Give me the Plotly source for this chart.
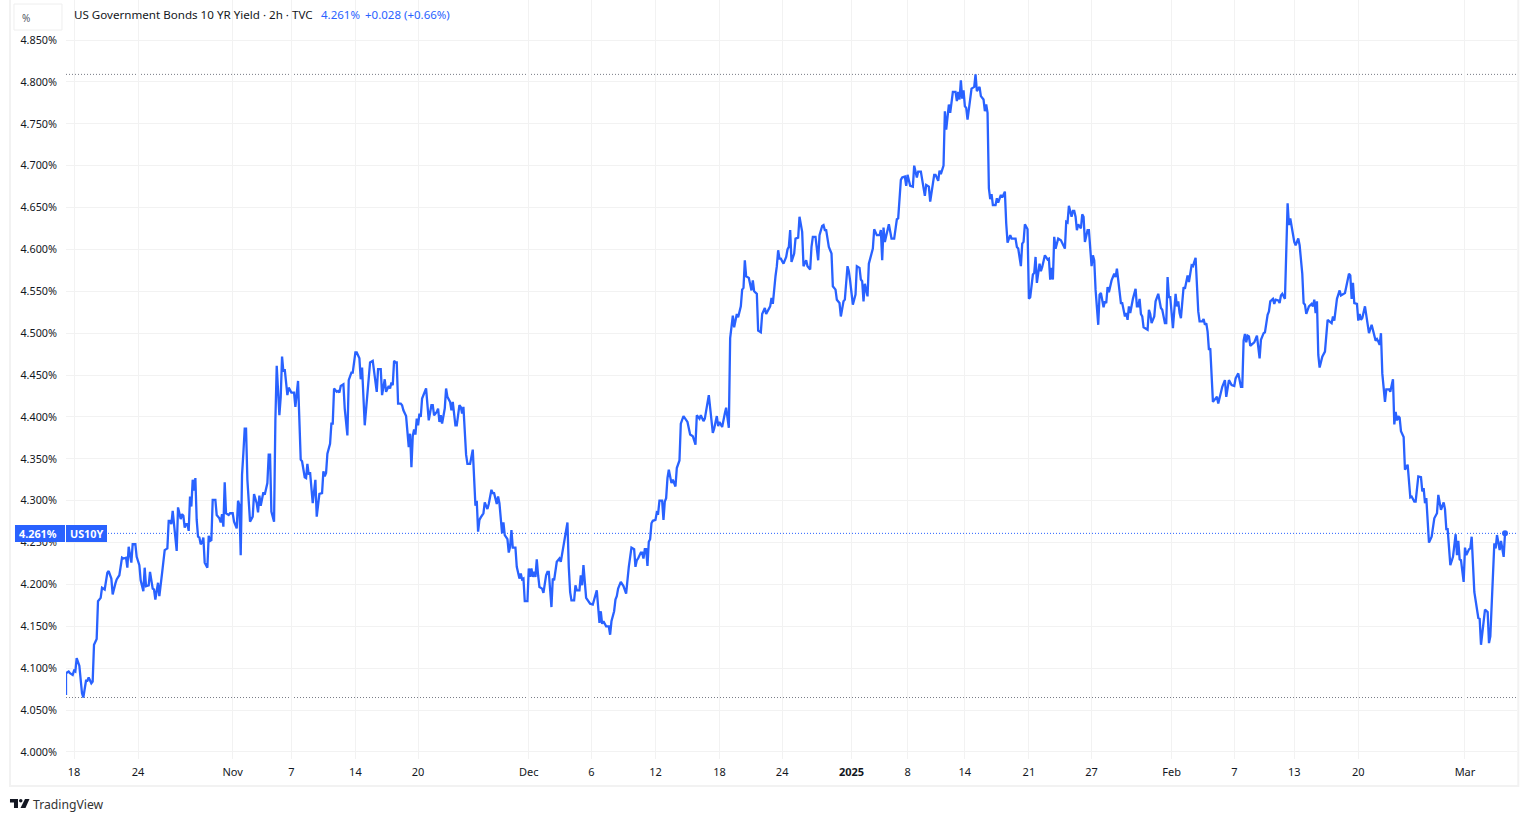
import plotly.graph_objects as go

# x is the bar number (2h bars), bar 0 = 18 Oct 2024
bars_oct = [-6, -6, -4, -3, -1, 0, 1, 2, 4, 6, 7, 9, 10, 11, 13, 14, 15, 17, 18, 20, 21, 23, 25, 26, 28, 29, 31, 32, 34, 36, 37, 39, 40, 41, 43, 44, 46, 47, 49, 50, 52, 53, 54, 56, 57, 59, 60, 61, 63, 64, 66,
            68, 70, 71, 72, 73, 74, 75, 77, 78, 80, 81, 82, 83, 84, 85, 86, 87, 88, 89, 90, 91, 92, 93, 94, 95, 96, 97, 98, 100, 101, 102, 103, 104, 106, 107, 109, 110, 111, 112, 113, 114, 116, 117]
yields_oct = [4.068, 4.094, 4.096, 4.094, 4.092, 4.097, 4.096, 4.112, 4.103, 4.070, 4.065, 4.085, 4.085, 4.089, 4.082, 4.084, 4.128, 4.135, 4.180, 4.184, 4.196, 4.194, 4.214, 4.216, 4.207, 4.188, 4.201, 4.206, 4.211, 4.232, 4.231, 4.232, 4.220, 4.245, 4.226, 4.248, 4.248, 4.233, 4.223, 4.205, 4.192, 4.220, 4.198, 4.199, 4.215, 4.195, 4.194, 4.182, 4.202, 4.186, 4.213,
              4.241, 4.243, 4.276, 4.276, 4.272, 4.288, 4.269, 4.240, 4.292, 4.278, 4.284, 4.282, 4.268, 4.272, 4.272, 4.264, 4.305, 4.293, 4.325, 4.312, 4.327, 4.277, 4.257, 4.256, 4.248, 4.250, 4.256, 4.226, 4.220, 4.258, 4.252, 4.253, 4.301, 4.301, 4.283, 4.279, 4.274, 4.284, 4.269, 4.322, 4.285, 4.283, 4.285]

bars_nov = [119, 120, 122, 123, 124, 125, 126, 127, 128, 129, 130, 132, 134, 135, 137, 138, 139, 140, 142, 143, 145, 146, 147, 148, 150, 151, 152, 154, 155, 156, 157, 158, 160, 161, 163, 165, 166, 168, 170, 171, 173, 174, 175, 176, 177, 179, 181, 182, 184, 186, 187, 188, 189, 190, 192, 193, 194, 195, 197, 198, 199, 200, 202, 203, 205, 206, 208, 209, 211, 212, 214, 215, 216, 218, 221, 222, 224, 225, 227, 228, 230, 231, 233, 234, 236, 237, 238, 239, 240, 241, 242, 243, 245, 246, 247, 249, 250, 251, 252, 253, 254, 255, 256, 257, 258, 259,
            260, 261, 264, 265, 266, 268, 269, 270, 272, 273, 274, 275, 276, 278, 279, 280, 282, 283, 284, 286, 287, 289, 290, 291, 292, 294, 295, 297, 299, 301, 302, 303, 304, 305, 307, 308, 310, 311, 313, 314, 315, 317, 318, 319, 320, 321, 322, 323, 325, 326, 327, 328, 329, 331, 332, 334, 335, 336, 337, 338, 340]
yields_nov = [4.285, 4.275, 4.267, 4.300, 4.295, 4.235, 4.331, 4.357, 4.386, 4.386, 4.325, 4.275, 4.281, 4.308, 4.297, 4.286, 4.306, 4.294, 4.310, 4.307, 4.321, 4.355, 4.355, 4.287, 4.275, 4.396, 4.461, 4.402, 4.424, 4.472, 4.454, 4.457, 4.426, 4.435, 4.429, 4.429, 4.412, 4.443, 4.349, 4.347, 4.328, 4.327, 4.344, 4.331, 4.334, 4.297, 4.325, 4.281, 4.308, 4.309, 4.335, 4.329, 4.333, 4.356, 4.368, 4.392, 4.392, 4.434, 4.430, 4.431, 4.429, 4.437, 4.439, 4.410, 4.378, 4.444, 4.453, 4.453, 4.477, 4.477, 4.470, 4.445, 4.459, 4.390, 4.442, 4.465, 4.467, 4.452, 4.430, 4.457, 4.457, 4.426, 4.445, 4.430, 4.437, 4.434, 4.441, 4.438, 4.467, 4.465, 4.465, 4.416, 4.416, 4.414, 4.408, 4.401, 4.381, 4.364, 4.380, 4.340, 4.377, 4.385, 4.379, 4.398, 4.390, 4.404,
              4.400, 4.422, 4.434, 4.410, 4.396, 4.414, 4.414, 4.402, 4.406, 4.410, 4.394, 4.402, 4.392, 4.410, 4.434, 4.424, 4.418, 4.408, 4.418, 4.390, 4.390, 4.414, 4.412, 4.404, 4.412, 4.355, 4.344, 4.344, 4.361, 4.294, 4.300, 4.263, 4.277, 4.280, 4.285, 4.298, 4.290, 4.296, 4.313, 4.309, 4.309, 4.296, 4.305, 4.297, 4.277, 4.261, 4.274, 4.259, 4.254, 4.238, 4.245, 4.265, 4.244, 4.244, 4.221, 4.207, 4.213, 4.206, 4.207, 4.180, 4.180]

bars_dec = [341, 342, 343, 344, 345, 346, 347, 348, 349, 351, 352, 354, 355, 356, 358, 359, 360, 362, 364, 365, 367, 368, 370, 371, 372, 373, 375, 376, 377, 379, 380, 381, 382, 384, 386, 387, 389, 392, 394, 395, 396, 397, 399, 401, 402, 403, 405, 406, 407, 408, 410, 412, 414, 415, 416, 418, 420, 421, 422, 423, 425, 426, 427, 428, 429, 430, 431, 432, 433, 434, 436, 437, 438, 439, 441, 442, 443, 444, 445, 446, 448, 449, 451, 452, 454, 455, 457, 460, 462, 464, 466, 467, 469, 470, 472, 473, 475, 476, 479, 480, 482, 483, 484, 486, 488, 489, 491,
            492, 494, 495, 497, 498, 500, 501, 502, 503, 504, 506, 508, 509, 510, 512, 513, 515, 516, 518, 519, 522, 523, 524, 526, 527, 528, 529, 530, 532, 534, 535, 536, 537, 538, 540, 541, 543, 544, 546, 547, 549, 550, 552, 553, 554, 556, 558, 559, 561, 562, 563, 564, 566, 568, 569, 571, 572, 574, 575, 577, 578, 580, 581, 582]
yields_dec = [4.219, 4.209, 4.219, 4.209, 4.215, 4.209, 4.230, 4.211, 4.197, 4.195, 4.190, 4.211, 4.215, 4.215, 4.173, 4.207, 4.205, 4.227, 4.231, 4.227, 4.247, 4.253, 4.274, 4.221, 4.191, 4.181, 4.181, 4.199, 4.193, 4.193, 4.211, 4.199, 4.223, 4.184, 4.180, 4.177, 4.176, 4.193, 4.154, 4.168, 4.153, 4.156, 4.150, 4.150, 4.140, 4.156, 4.168, 4.182, 4.186, 4.195, 4.203, 4.198, 4.189, 4.211, 4.221, 4.244, 4.242, 4.221, 4.229, 4.231, 4.238, 4.238, 4.231, 4.242, 4.242, 4.222, 4.251, 4.254, 4.273, 4.276, 4.277, 4.286, 4.285, 4.300, 4.300, 4.277, 4.299, 4.303, 4.327, 4.337, 4.321, 4.325, 4.317, 4.339, 4.348, 4.392, 4.401, 4.394, 4.379, 4.377, 4.367, 4.402, 4.398, 4.402, 4.395, 4.398, 4.418, 4.426, 4.381, 4.386, 4.401, 4.389, 4.394, 4.388, 4.404, 4.411, 4.387,
              4.494, 4.521, 4.507, 4.523, 4.519, 4.532, 4.552, 4.554, 4.587, 4.568, 4.566, 4.551, 4.563, 4.550, 4.547, 4.503, 4.501, 4.523, 4.530, 4.523, 4.532, 4.542, 4.535, 4.568, 4.580, 4.599, 4.589, 4.589, 4.583, 4.591, 4.600, 4.603, 4.623, 4.585, 4.595, 4.613, 4.614, 4.639, 4.621, 4.580, 4.587, 4.580, 4.576, 4.603, 4.615, 4.615, 4.587, 4.617, 4.628, 4.629, 4.623, 4.623, 4.603, 4.595, 4.556, 4.552, 4.540, 4.536, 4.520, 4.538, 4.540, 4.580, 4.574, 4.562]

bars_jan = [584, 586, 587, 589, 590, 591, 592, 593, 595, 596, 599, 600, 602, 604, 605, 606, 607, 608, 611, 613, 615, 617, 618, 620, 621, 623, 624, 625, 627, 629, 630, 632, 633, 635, 637, 638, 639, 641, 642, 645, 646, 648, 649, 650, 652, 653, 654, 656, 657, 659, 661, 662, 663, 664, 665, 666, 667, 668, 669, 670, 673, 675, 676, 677, 679, 680, 682, 683, 684, 685, 686, 687, 688, 689, 691, 692, 693, 695, 696, 698, 699, 700, 702, 703, 706, 707, 708, 710, 711, 712, 713, 715, 716, 717, 719, 720, 721, 722, 724, 725, 726, 728, 730, 731, 732, 733, 734, 735, 736, 738, 740, 741, 743, 744, 745, 746, 748, 749, 750, 751, 752, 753, 755, 756, 757, 758, 760, 761, 763, 764, 765, 766, 768, 769,
            770, 772, 773, 774, 775, 776, 778, 780, 781, 782, 784, 785, 786, 788, 789, 790, 791, 792, 794, 796, 797, 798, 799, 800, 801, 802, 805, 806, 807, 808, 810, 811, 813, 815, 816, 818, 819, 820, 821, 822]
yields_jan = [4.534, 4.546, 4.580, 4.578, 4.564, 4.562, 4.538, 4.559, 4.544, 4.583, 4.601, 4.624, 4.617, 4.617, 4.623, 4.587, 4.626, 4.609, 4.630, 4.613, 4.613, 4.636, 4.637, 4.683, 4.686, 4.687, 4.676, 4.689, 4.676, 4.675, 4.700, 4.686, 4.693, 4.693, 4.671, 4.664, 4.677, 4.675, 4.657, 4.689, 4.689, 4.682, 4.694, 4.690, 4.700, 4.765, 4.743, 4.773, 4.763, 4.788, 4.788, 4.777, 4.788, 4.779, 4.802, 4.780, 4.790, 4.771, 4.769, 4.755, 4.792, 4.794, 4.809, 4.789, 4.794, 4.783, 4.779, 4.765, 4.773, 4.763, 4.673, 4.660, 4.666, 4.653, 4.653, 4.661, 4.656, 4.665, 4.662, 4.669, 4.631, 4.608, 4.617, 4.613, 4.613, 4.603, 4.601, 4.580, 4.607, 4.609, 4.630, 4.624, 4.541, 4.543, 4.570, 4.572, 4.591, 4.560, 4.583, 4.574, 4.579, 4.593, 4.588, 4.589, 4.564, 4.578, 4.564, 4.615, 4.601, 4.613, 4.611, 4.607, 4.601, 4.633, 4.632, 4.652, 4.639, 4.646, 4.646, 4.639, 4.623, 4.630, 4.625, 4.642, 4.639, 4.609, 4.623, 4.623, 4.580, 4.593, 4.587, 4.552, 4.510, 4.546,
              4.548, 4.531, 4.538, 4.536, 4.555, 4.549, 4.563, 4.571, 4.567, 4.577, 4.549, 4.536, 4.536, 4.520, 4.524, 4.516, 4.532, 4.524, 4.541, 4.553, 4.532, 4.532, 4.541, 4.523, 4.520, 4.507, 4.504, 4.528, 4.523, 4.512, 4.520, 4.538, 4.547, 4.530, 4.528, 4.512, 4.512, 4.567, 4.543, 4.543]

bars_feb = [824, 826, 827, 828, 829, 830, 832, 833, 835, 836, 838, 839, 841, 842, 843, 844, 846, 847, 848, 849, 850, 851, 852, 854, 856, 857, 858, 860, 861, 863, 864, 866, 868, 870, 871, 873, 875, 876, 877, 878, 879, 880, 881, 882, 885, 887, 889, 890, 892, 893, 895, 896, 897, 899, 900, 901, 903, 904, 905, 906, 908, 910, 911, 912, 913, 915, 916, 918, 919, 921, 922, 923, 924, 926, 928, 929, 930, 931, 932, 933, 934, 936, 938, 940, 943, 944, 945, 947, 949, 950, 953, 956, 957, 958, 959, 960, 962, 963, 964, 965, 966, 968, 971, 973, 976, 977, 978, 979, 980, 981, 983, 984, 986, 987, 989, 990, 991, 992, 993, 994, 995, 997, 998,
            1000, 1002, 1003, 1005, 1006, 1008, 1010, 1011, 1012, 1013, 1014, 1016, 1018, 1020, 1022, 1023, 1025, 1027, 1028, 1029, 1030, 1032, 1034, 1036, 1037, 1038, 1039, 1040, 1042]
yields_feb = [4.506, 4.547, 4.532, 4.538, 4.524, 4.518, 4.555, 4.553, 4.569, 4.561, 4.581, 4.580, 4.590, 4.547, 4.526, 4.514, 4.514, 4.517, 4.510, 4.512, 4.502, 4.480, 4.482, 4.418, 4.422, 4.424, 4.416, 4.428, 4.436, 4.444, 4.424, 4.444, 4.438, 4.437, 4.446, 4.452, 4.436, 4.436, 4.491, 4.499, 4.489, 4.497, 4.496, 4.485, 4.489, 4.497, 4.470, 4.492, 4.500, 4.501, 4.522, 4.526, 4.538, 4.541, 4.535, 4.540, 4.539, 4.536, 4.545, 4.547, 4.541, 4.655, 4.629, 4.637, 4.627, 4.609, 4.605, 4.613, 4.605, 4.571, 4.536, 4.534, 4.523, 4.532, 4.535, 4.532, 4.540, 4.524, 4.538, 4.474, 4.459, 4.472, 4.478, 4.516, 4.512, 4.520, 4.515, 4.541, 4.551, 4.545, 4.548, 4.571, 4.569, 4.541, 4.560, 4.536, 4.535, 4.515, 4.523, 4.516, 4.518, 4.532, 4.500, 4.510, 4.491, 4.493, 4.490, 4.486, 4.500, 4.452, 4.418, 4.433, 4.433, 4.430, 4.445, 4.391, 4.406, 4.396, 4.401, 4.399, 4.383, 4.376, 4.337,
              4.343, 4.304, 4.305, 4.299, 4.299, 4.329, 4.328, 4.311, 4.315, 4.297, 4.303, 4.250, 4.257, 4.279, 4.285, 4.307, 4.289, 4.298, 4.290, 4.266, 4.266, 4.223, 4.233, 4.260, 4.235, 4.252, 4.230, 4.229, 4.203]

bars_mar = [1043, 1044, 1046, 1047, 1048, 1050, 1053, 1054, 1055, 1057, 1058, 1060, 1061, 1062, 1064, 1065, 1066, 1067, 1069, 1070, 1072, 1073]
yields_mar = [4.244, 4.235, 4.242, 4.243, 4.257, 4.191, 4.160, 4.159, 4.128, 4.152, 4.170, 4.167, 4.130, 4.138, 4.209, 4.249, 4.243, 4.259, 4.241, 4.252, 4.233, 4.261]

tick_bars = [0, 48, 119, 163, 211, 258, 341, 388, 436, 484, 531, 583, 625, 668, 716, 763, 823, 870, 915, 963, 1043]
tick_labels = ["18", "24", "Nov", "7", "14", "20", "Dec", "6", "12", "18", "24", "<b>2025</b>", "8", "14", "21", "27", "Feb", "7", "13", "20", "Mar"]
yield_ticks = [4.0, 4.05, 4.1, 4.15, 4.2, 4.25, 4.3, 4.35, 4.4, 4.45, 4.5, 4.55, 4.6, 4.65, 4.7, 4.75, 4.8, 4.85]
yield_labels = [f"{v:.3f}%" for v in yield_ticks]

bars = bars_oct + bars_nov + bars_dec + bars_jan + bars_feb + bars_mar
yields = yields_oct + yields_nov + yields_dec + yields_jan + yields_feb + yields_mar

W, H = 1528, 822
LEFT, RIGHT, BOTTOM = 66, 1516.67, 759
BLUE = "#2962ff"
GRID = "#f2f2f2"
TEXT = "#131722"
FONT = "Noto Sans"


def px(x):
    return (x - LEFT) / (RIGHT - LEFT)


def py(y):
    return 1 - y / BOTTOM


def box(x0, y0, x1, y1, **kw):
    return dict(type="rect", xref="paper", yref="paper", x0=px(x0), x1=px(x1), y0=py(y0), y1=py(y1), **kw)


def poly(points, **kw):
    path = "M " + " L ".join(f"{px(x)},{py(y)}" for x, y in points) + " Z"
    return dict(type="path", xref="paper", yref="paper", path=path, **kw)


def label(x, y, text, color=TEXT, size=12, anchor="left"):
    fig.add_annotation(x=px(x), y=py(y), xref="paper", yref="paper", text=text, showarrow=False,
                       xanchor=anchor, yanchor="middle", borderpad=0,
                       font=dict(family=FONT, size=size, color=color))


fig = go.Figure()

fig.update_layout(
    width=W,
    height=H,
    margin=dict(l=LEFT, r=W - RIGHT, t=0, b=H - BOTTOM, pad=0),
    paper_bgcolor="white",
    plot_bgcolor="white",
    showlegend=False,
    dragmode=False,
    font=dict(family=FONT, size=11, color=TEXT),
    xaxis=dict(range=[-6, 1082], tickvals=tick_bars, ticktext=tick_labels, showgrid=True, gridcolor=GRID,
               gridwidth=1, zeroline=False, showline=False, ticks="", ticklabelstandoff=5, tickangle=0),
    yaxis=dict(range=[3.9916, 4.8978], tickvals=yield_ticks, ticktext=yield_labels, showgrid=True,
               gridcolor=GRID, gridwidth=1, zeroline=False, showline=False, ticks="", ticklabelstandoff=8,
               tickfont=dict(size=10.8)),
)

# last price + high / low guides
fig.add_hline(y=yields[-1], line=dict(color=BLUE, width=1, dash="1px,2px"), layer="below")
fig.add_hline(y=max(yields), line=dict(color="#787b86", width=1, dash="1px,2px"), layer="below")
fig.add_hline(y=min(yields), line=dict(color="#787b86", width=1, dash="1px,2px"), layer="below")

fig.add_trace(go.Scatter(x=bars, y=yields, mode="lines", line=dict(color=BLUE, width=2.3), hoverinfo="skip"))
fig.add_trace(go.Scatter(x=bars[-1:], y=yields[-1:], mode="markers", marker=dict(color=BLUE, size=6), hoverinfo="skip"))

INK = dict(fillcolor="#131722", line=dict(width=0), layer="above")
BADGE = dict(fillcolor=BLUE, line=dict(width=0), layer="above")
overlay = [
    # chart frame
    box(10, -1, 1518, 786, line=dict(color=GRID, width=2), fillcolor="rgba(0,0,0,0)", layer="above"),
    # price labels on the left
    box(15, 525, 65, 542, **BADGE),
    box(66, 525, 107, 542, **BADGE),
    # tradingview mark
    poly([(10, 799), (18, 799), (18, 808), (14, 808), (14, 802.5), (10, 802.5)], **INK),
    dict(type="circle", xref="paper", yref="paper", x0=px(19), x1=px(22.5), y0=py(799), y1=py(802.5), **INK),
    poly([(25, 799), (29.5, 799), (25.5, 808), (20.5, 808)], **INK),
    # unit button
    box(14, 4, 62, 30, line=dict(color="#eeeeee", width=1), fillcolor="white", layer="above"),
]
for shape in overlay:
    fig.add_shape(shape)

label(26.5, 18, "%", color="#555a66", size=10, anchor="center")
label(73, 15, "US Government Bonds 10 YR Yield · 2h · TVC", size=11.6)
label(319.5, 15, "4.261%", color=BLUE, size=11.5)
label(363.5, 15, "+0.028 (+0.66%)", color=BLUE, size=11.5)
label(38.5, 533.5, "<b>4.261%</b>", color="white", size=10.8, anchor="center")
label(86.5, 533.5, "<b>US10Y</b>", color="white", size=10.8, anchor="center")
label(32, 804, "TradingView", color="#333333", size=12.2)

fig.write_html("out.html", config={"displayModeBar": False},
               post_script="document.body.style.margin='0';document.body.style.overflow='hidden';")
